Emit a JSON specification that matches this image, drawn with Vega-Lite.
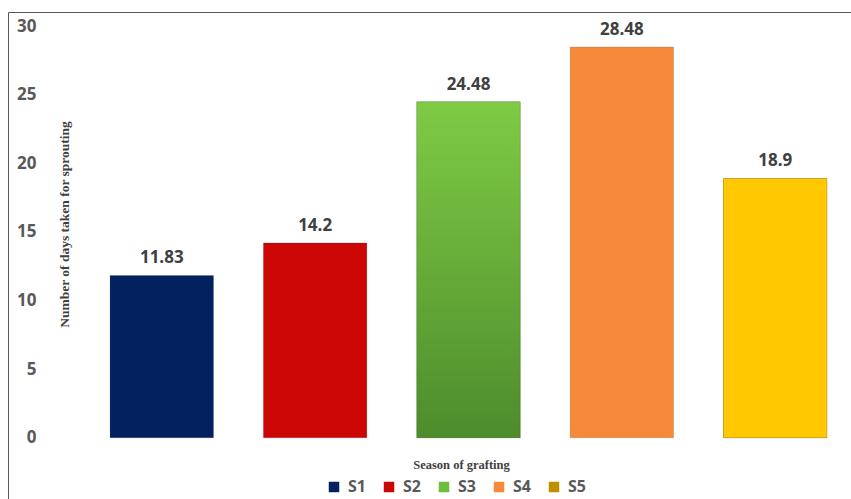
{
  "$schema": "https://vega.github.io/schema/vega-lite/v6.json",
  "width": 921,
  "height": 500,
  "padding": {"left": 8, "top": 12, "right": 0, "bottom": 0},
  "autosize": {"type": "pad"},
  "background": "white",
  "config": {"view": {"stroke": "#595959", "strokeWidth": 1}, "font": "Open Sans"},
  "data": {"values": [
    {"season": "S1", "days": 11.83, "label": "11.83"},
    {"season": "S2", "days": 14.2, "label": "14.2"},
    {"season": "S3", "days": 24.48, "label": "24.48"},
    {"season": "S4", "days": 28.48, "label": "28.48"},
    {"season": "S5", "days": 18.9, "label": "18.9"}
  ]},
  "encoding": {
    "x": {
      "field": "season", "type": "nominal", "sort": null,
      "scale": {"paddingInner": 0.3255, "paddingOuter": 0.6654},
      "axis": {
        "labels": false, "ticks": false, "domain": false,
        "title": "Season of grafting",
        "titleFont": "Liberation Serif", "titleFontSize": 12.5, "titleFontWeight": "bold",
        "titleColor": "#404040", "titleX": 453, "titleY": -44, "titleBaseline": "alphabetic"
      }
    },
    "y": {
      "field": "days", "type": "quantitative",
      "scale": {"domain": [-5.41, 31.03], "nice": false, "zero": false},
      "axis": {
        "values": [0, 5, 10, 15, 20, 25, 30],
        "grid": false, "domain": false, "ticks": false, "tickSize": 0,
        "offset": -28, "labelPadding": 0,
        "labelFont": "Open Sans", "labelFontSize": 17, "labelFontWeight": "bold", "labelColor": "#595959",
        "title": "Number of days taken for sprouting",
        "titleFont": "Liberation Serif", "titleFontSize": 13.5, "titleFontWeight": "bold", "titleColor": "#404040",
        "titleX": 32, "titleY": 212, "titleBaseline": "alphabetic", "titleAngle": -90
      }
    }
  },
  "layer": [
    {
      "mark": {"type": "bar", "stroke": "#000000", "strokeOpacity": 0.12, "strokeWidth": 1},
      "encoding": {
        "y2": {"datum": 0},
        "color": {
          "field": "season", "type": "nominal", "sort": null,
          "scale": {"domain": ["S1", "S2", "S3", "S4", "S5"], "range": ["#03215F", "#CC0505", "#6EBE3C", "#F7893B", "#BF8F00"]},
          "legend": {
            "orient": "none", "legendX": 318, "legendY": 467, "direction": "horizontal", "title": null,
            "symbolType": "square", "symbolSize": 110, "symbolStrokeWidth": 0,
            "labelFont": "Open Sans", "labelFontSize": 16, "labelFontWeight": "bold", "labelColor": "#595959",
            "labelOffset": 6, "columnPadding": 15
          }
        }
      }
    },
    {
      "transform": [{"filter": "datum.season === 'S3'"}],
      "mark": {"type": "bar", "stroke": "#000000", "strokeOpacity": 0.12, "strokeWidth": 1, "color": {"gradient": "linear", "x1": 0, "y1": 0, "x2": 0, "y2": 1, "stops": [{"offset": 0, "color": "#7ECB45"}, {"offset": 1, "color": "#4E8C2C"}]}},
      "encoding": {"y2": {"datum": 0}}
    },
    {
      "transform": [{"filter": "datum.season === 'S5'"}],
      "mark": {"type": "bar", "color": "#FFC800", "stroke": "#000000", "strokeOpacity": 0.12, "strokeWidth": 1},
      "encoding": {"y2": {"datum": 0}}
    },
    {
      "mark": {"type": "text", "dy": -12, "baseline": "alphabetic", "font": "Open Sans", "fontSize": 17, "fontWeight": "bold", "color": "#404040"},
      "encoding": {"text": {"field": "label"}}
    }
  ]
}
